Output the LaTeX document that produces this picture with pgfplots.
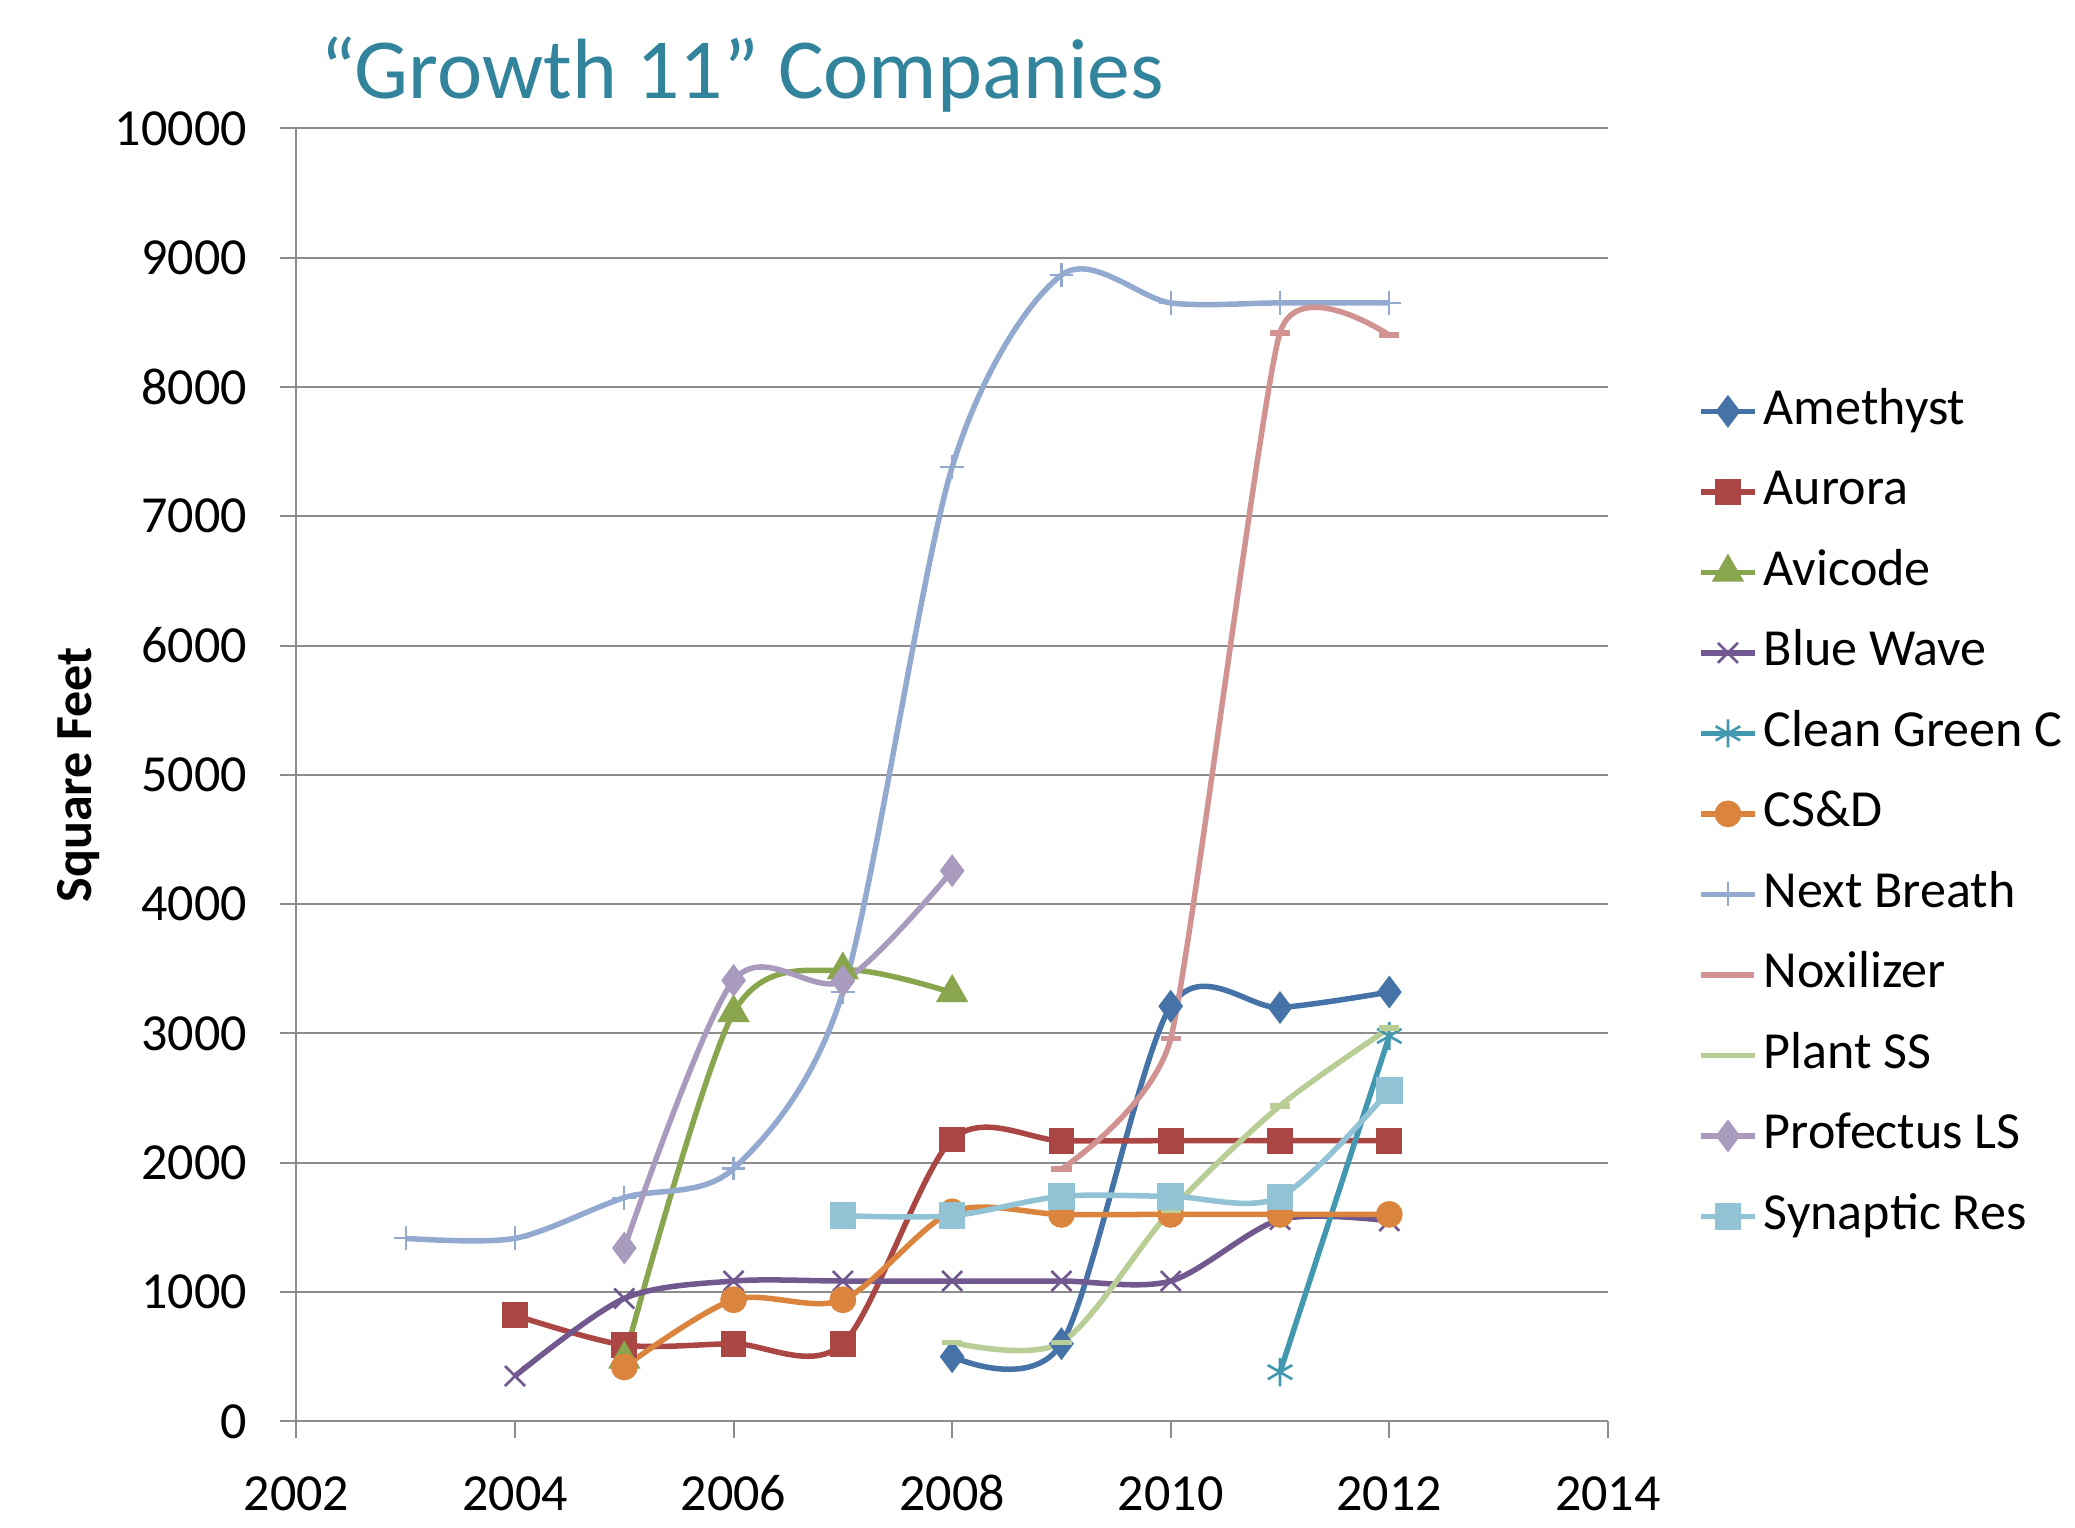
\documentclass[border=0pt]{standalone}
\usepackage{fontspec}
\setmainfont{Carlito}
\usepackage{pgfplots}
\pgfplotsset{compat=1.18}
\definecolor{cA}{HTML}{4572A7}
\definecolor{cB}{HTML}{AA4643}
\definecolor{cC}{HTML}{89A54E}
\definecolor{cD}{HTML}{71588F}
\definecolor{cE}{HTML}{4198AF}
\definecolor{cF}{HTML}{DB843D}
\definecolor{cG}{HTML}{93A9CF}
\definecolor{cH}{HTML}{D19392}
\definecolor{cI}{HTML}{B9CD96}
\definecolor{cJ}{HTML}{A99BBD}
\definecolor{cK}{HTML}{92C3D5}
\definecolor{titlecol}{HTML}{31849B}
\definecolor{gridc}{HTML}{8C8C8C}
\begin{document}
\begin{tikzpicture}[x=1pt,y=1pt]
\useasboundingbox (-67.2,-24) rectangle (403.2,322.2);
\begin{axis}[
  at={(0,0)}, anchor=south west,
  scale only axis, width=297.3pt, height=293.1pt,
  xmin=2002, xmax=2014, ymin=0, ymax=10000,
  xtick={2002,2004,...,2014}, ytick={0,1000,...,10000},
  axis x line*=bottom, axis y line*=left,
  ymajorgrids, grid style={color=gridc, line width=0.45pt},
  axis line style={color=gridc, line width=0.45pt},
  tick style={color=gridc, line width=0.45pt},
  tick align=outside, major tick length=3.8pt,
  scaled y ticks=false,
  /pgf/number format/1000 sep={},
  /pgf/number format/assume math mode=true,
  tick label style={font=\fontsize{11.8}{14}\selectfont},
  yticklabel style={xshift=-3.9pt},
  xticklabel style={yshift=-5.0pt, text height=8pt, text depth=0pt},
  title={“Growth 11” Companies},
  title style={at={(axis description cs:0.340,1.0215)}, anchor=center, font=\fontsize{19.4}{23}\selectfont, color=titlecol},
  ylabel={\textbf{Square Feet}},
  ylabel style={at={(axis description cs:-0.1665,0.5)}, anchor=center, font=\fontsize{11.8}{14}\selectfont},
  legend cell align=left,
  legend style={at={(axis description cs:1.0686,0.4698)}, anchor=west, draw=none, fill=none,
    font=\fontsize{11.8}{14}\selectfont, row sep=7.45pt, inner xsep=0pt, inner ysep=0pt,
    nodes={text height=8.3pt, text depth=2.5pt, inner ysep=0pt, inner xsep=1.5pt}},
  legend image code/.code={\draw[mark repeat=2,mark phase=2,#1] plot coordinates {(0pt,0pt) (6pt,0pt) (12pt,0pt)};},
  every axis plot/.append style={line width=1.25pt},
]
\addplot[color=cA, smooth, mark=diamond*, mark size=2.7pt, mark options={draw=none, fill=cA}]
  coordinates {(2008,500)(2009,600)(2010,3210)(2011,3200)(2012,3320)};
\addlegendentry{Amethyst}
\addplot[color=cB, smooth, mark=square*, mark size=2.3pt, mark options={draw=none, fill=cB}]
  coordinates {(2004,820)(2005,590)(2006,600)(2007,600)(2008,2180)(2009,2170)(2010,2170)(2011,2170)(2012,2170)};
\addlegendentry{Aurora}
\addplot[color=cC, smooth, mark=triangle*, mark size=3pt, mark options={draw=none, fill=cC}]
  coordinates {(2005,480)(2006,3160)(2007,3490)(2008,3315)};
\addlegendentry{Avicode}
\addplot[color=cD, smooth, mark=x, mark size=3.2pt, mark options={line width=0.6pt}]
  coordinates {(2004,350)(2005,950)(2006,1085)(2007,1085)(2008,1085)(2009,1085)(2010,1085)(2011,1560)(2012,1550)};
\addlegendentry{Blue Wave}
\addplot[color=cE, smooth, mark=asterisk, mark size=3.2pt, mark options={line width=0.6pt}]
  coordinates {(2011,380)(2012,2980)};
\addlegendentry{Clean Green C}
\addplot[color=cF, smooth, mark=*, mark size=2.4pt, mark options={draw=none, fill=cF}]
  coordinates {(2005,420)(2006,940)(2007,940)(2008,1620)(2009,1600)(2010,1600)(2011,1600)(2012,1600)};
\addlegendentry{CS\&D}
\addplot[color=cG, smooth, mark=+, mark size=2.7pt, mark options={line width=0.5pt}]
  coordinates {(2003,1415)(2004,1415)(2005,1730)(2006,1955)(2007,3320)(2008,7380)(2009,8865)(2010,8650)(2011,8650)(2012,8650)};
\addlegendentry{Next Breath}
\addplot[color=cH, smooth, tension=0.3, mark=-, mark size=2.3pt, mark options={line width=1.3pt}]
  coordinates {(2009,1950)(2010,2960)(2011,8420)(2012,8400)};
\addlegendentry{Noxilizer}
\addplot[color=cI, smooth, mark=-, mark size=2.3pt, mark options={line width=1.3pt}]
  coordinates {(2008,610)(2009,610)(2010,1630)(2011,2440)(2012,3040)};
\addlegendentry{Plant SS}
\addplot[color=cJ, smooth, mark=diamond*, mark size=2.7pt, mark options={draw=none, fill=cJ}]
  coordinates {(2005,1340)(2006,3410)(2007,3405)(2008,4258)};
\addlegendentry{Profectus LS}
\addplot[color=cK, smooth, mark=square*, mark size=2.4pt, mark options={draw=none, fill=cK}]
  coordinates {(2007,1590)(2008,1590)(2009,1740)(2010,1740)(2011,1735)(2012,2560)};
\addlegendentry{Synaptic Res}
\end{axis}
\end{tikzpicture}
\end{document}
